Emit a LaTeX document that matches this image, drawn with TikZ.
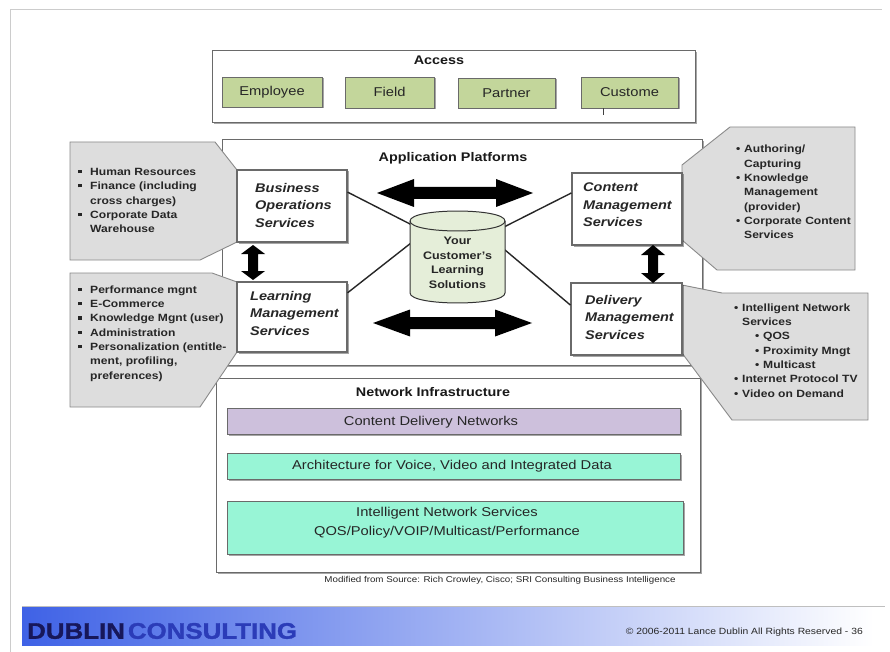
\documentclass[tikz,border=0pt]{standalone}
\usepackage{fontspec}
\setmainfont{Liberation Sans}[FakeStretch=1.15]
\usetikzlibrary{shadows,calc}

\definecolor{accgreen}{HTML}{C3D69B}
\definecolor{calgray}{HTML}{DDDDDD}
\definecolor{calline}{HTML}{8A8A8A}
\definecolor{boxline}{HTML}{6A6A6A}
\definecolor{cylfill}{HTML}{E5EED9}
\definecolor{lav}{HTML}{CDC0DC}
\definecolor{aqua}{HTML}{98F5D6}
\definecolor{navy}{HTML}{17175A}
\definecolor{consblue}{HTML}{2B3CB8}
\definecolor{bandblue}{HTML}{3F62E6}

\newcommand\sqb{\makebox[12pt][l]{\rule[0.22em]{0.32em}{0.32em}}}
\newcommand\dotb{\makebox[8pt][l]{\textbullet}}
\newcommand\indA{\hspace*{12pt}}
\newcommand\indB{\hspace*{8pt}}

\begin{document}
\begin{tikzpicture}[x=1pt,y=-1pt,
  sh/.style={drop shadow={shadow xshift=1.5pt,shadow yshift=-1.5pt,opacity=0.35,fill=black}},
  panel/.style={draw=boxline, fill=white, line width=1pt, sh, inner sep=0},
  grn/.style={draw=boxline, fill=accgreen, line width=0.9pt, sh, inner sep=0, text=black!85, font=\fontsize{12.8}{14}\selectfont},
  svc/.style={draw=boxline, fill=white, line width=1.1pt, sh, inner sep=0},
  svct/.style={align=left, inner sep=0, font=\fontsize{12.6}{17.5}\selectfont\bfseries\itshape, text=black!85},
  ttl/.style={font=\fontsize{12.5}{14}\selectfont\bfseries, inner sep=0, text=black!90},
  callout/.style={fill=calgray, draw=calline, line width=0.9pt},
  calt/.style={align=left, inner sep=0, font=\fontsize{10.5}{14.3}\selectfont\bfseries, text=black!85},
  bar/.style={draw=boxline, line width=0.9pt, sh, inner sep=0},
  bart/.style={font=\fontsize{12.8}{19}\selectfont, inner sep=0, text=black!85, align=center},
  fat/.style={fill=black},
  conn/.style={draw=black!85, line width=1.4pt}
]
\useasboundingbox (0,0) rectangle (890,652);
\fill[white] (0,0) rectangle (890,652);
\draw[black!20, line width=1pt] (10,652) -- (10,10) -- (882,10);

% Access
\node[panel, minimum width=483pt, minimum height=72pt] (access) at (453.5,87) {};
\node[ttl] (acct) at (439,60) {Access};
\node[grn, minimum width=100pt, minimum height=30pt] (emp) at (272,92) {Employee};
\node[grn, minimum width=89pt, minimum height=31pt] (fld) at (389.5,92.5) {\raisebox{2pt}{Field}};
\node[grn, minimum width=97pt, minimum height=30pt] (prt) at (506.5,93) {Partner};
\node[grn, minimum width=97pt, minimum height=31pt] (cust) at (629.5,92.5) {Custome};
\draw[black!75, line width=1pt] (cust.south) ++(-26.5,0) -- ++(0,7);

% Application platforms and network boxes
\node[panel, minimum width=480pt, minimum height=225pt] (app) at (462,252.5) {};
\node[ttl] (appt) at (453,158) {Application Platforms};
\node[panel, minimum width=484pt, minimum height=194pt] (net) at (458,475) {};
\node[ttl] (nett) at (433,392) {Network Infrastructure};

\node[bar, fill=lav, minimum width=453pt, minimum height=26pt] (cdn) at (453.5,421) {};
\node[bart] at (431,422) {Content Delivery Networks};
\node[bar, fill=aqua, minimum width=453pt, minimum height=26pt] (arch) at (453.5,466) {};
\node[bart] at (452,466) {Architecture for Voice, Video and Integrated Data};
\node[bar, fill=aqua, minimum width=456pt, minimum height=53pt] (ins) at (455,527.5) {};
\node[bart] at (447,522.5) {Intelligent Network Services\\QOS/Policy/VOIP/Multicast/Performance};

% callouts
\draw[callout] (70,142) -- (215,142) -- (237,170) -- (237,242) -- (200,260) -- (70,260) -- cycle;
\draw[callout] (70,273) -- (212,273) -- (237,282) -- (237,352) -- (200,407) -- (70,407) -- cycle;
\draw[callout] (730,127) -- (855,127) -- (855,270) -- (717,270) -- (682,240) -- (682,165) -- cycle;
\draw[callout] (682,285) -- (722,293) -- (868,293) -- (868,420) -- (732,420) -- (682,353) -- cycle;

\node[calt, anchor=west] (c1) at (78,200.5) {\sqb Human Resources\\ \sqb Finance (including\\ \indA cross charges)\\ \sqb Corporate Data\\ \indA Warehouse};
\node[calt, anchor=west] (c2) at (78,333.5) {\sqb Performance mgnt\\ \sqb E-Commerce\\ \sqb Knowledge Mgnt (user)\\ \sqb Administration\\ \sqb Personalization (entitle-\\ \indA ment, profiling,\\ \indA preferences)};
\node[calt, anchor=west] (c3) at (736,192) {\dotb Authoring/\\ \indB Capturing\\ \dotb Knowledge\\ \indB Management\\ \indB (provider)\\ \dotb Corporate Content\\ \indB Services};
\node[calt, anchor=west] (c4) at (734,350.5) {\dotb Intelligent Network\\ \indB Services\\ \hspace*{21pt}\dotb QOS\\ \hspace*{21pt}\dotb Proximity Mngt\\ \hspace*{21pt}\dotb Multicast\\ \dotb Internet Protocol TV\\ \dotb Video on Demand};

% service boxes
\node[svc, minimum width=110pt, minimum height=72pt] (bos) at (292,206) {};
\node[svc, minimum width=110pt, minimum height=70pt] (lms) at (292,317) {};
\node[svc, minimum width=110pt, minimum height=72pt] (cms) at (627,209) {};
\node[svc, minimum width=111pt, minimum height=72pt] (dms) at (626.5,319) {};
\node[svct, anchor=west] (bost) at (255,205) {Business\\Operations\\Services};
\node[svct, anchor=west] (lmst) at (250,313) {Learning\\Management\\Services};
\node[svct, anchor=west] (cmst) at (583,205) {Content\\Management\\Services};
\node[svct, anchor=west] (dmst) at (585,317) {Delivery\\Management\\Services};

% connectors to the cylinder
\coordinate (cylTL) at (412,225);
\coordinate (cylML) at (411,243);
\coordinate (cylTR) at (504,227);
\coordinate (cylMR) at (505,250);
\draw[conn] ($(bos.north east)!0.31!(bos.south east)$) -- (cylTL);
\draw[conn] ($(lms.north east)!0.16!(lms.south east)$) -- (cylML);
\draw[conn] ($(cms.north west)!0.28!(cms.south west)$) -- (cylTR);
\draw[conn] ($(dms.north west)!0.31!(dms.south west)$) -- (cylMR);

% cylinder
\filldraw[draw=black!80, fill=cylfill, line width=1pt] (410,221) -- (410,293) .. controls (410,306.3) and (505,306.3) .. (505,293) -- (505,221) .. controls (505,207.7) and (410,207.7) .. (410,221) -- cycle;
\draw[black!80, line width=1pt] (410,221) .. controls (410,234.3) and (505,234.3) .. (505,221);
\node[align=center, inner sep=0, font=\fontsize{10.9}{14.5}\selectfont\bfseries, text=black!85] (cyl) at (457.5,263) {Your\\Customer’s\\Learning\\Solutions};

% fat arrows
\fill[fat] (377,193) -- (414,179) -- (414,187) -- (496,187) -- (496,179) -- (533,193) -- (496,207) -- (496,199) -- (414,199) -- (414,207) -- cycle;
\fill[fat] (373,323) -- (410,309.5) -- (410,317) -- (495,317) -- (495,309.5) -- (532,323) -- (495,336.5) -- (495,329) -- (410,329) -- (410,336.5) -- cycle;
\fill[fat] (253,245) -- (265,254) -- (258,254) -- (258,271) -- (265,271) -- (253,280) -- (241,271) -- (248,271) -- (248,254) -- (241,254) -- cycle;
\fill[fat] (653,245) -- (665,255) -- (658,255) -- (658,273) -- (665,273) -- (653,283) -- (641,273) -- (648,273) -- (648,255) -- (641,255) -- cycle;

% source
\node[inner sep=0, font=\fontsize{8.5}{10}\selectfont, text=black!85] (src) at (500,580) {Modified from Source: Rich Crowley, Cisco; SRI Consulting Business Intelligence};

% footer band
\shade[left color=bandblue, middle color=bandblue!40, right color=white] (22,607) rectangle (874,645);
\draw[black!25, line width=0.8pt] (22,606.5) -- (885,606.5);
\node[anchor=west, inner sep=0, font=\fontsize{22.5}{24}\selectfont\bfseries\addfontfeatures{FakeBold=1.5}] (brand) at (27,631) {\textcolor{navy}{DUBLIN}\hspace{3pt}\textcolor{consblue}{CONSULTING}};
\node[anchor=east, inner sep=0, font=\fontsize{9}{10}\selectfont, text=black!85] (copy) at (863,632) {© 2006-2011 Lance Dublin All Rights Reserved - 36};
\end{tikzpicture}
\end{document}
